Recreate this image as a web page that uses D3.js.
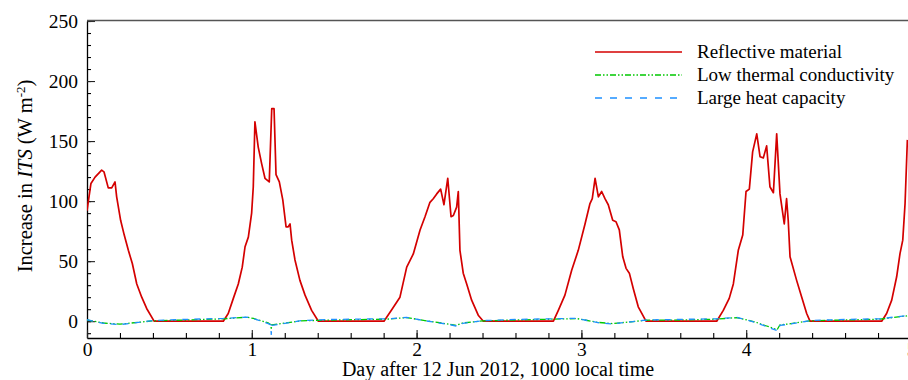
<!DOCTYPE html>
<html>
<head>
<meta charset="utf-8">
<script src="https://cdn.jsdelivr.net/npm/d3@7"></script>
<style>
    body { margin: 0; background: #fff; }
    svg { display: block; font-family: "Liberation Serif", "Times New Roman", serif; }
</style>
</head>
<body>
<div id="container"></div>
<script>
// [day, increase in ITS (W m-2)]
const reflective = [
    [0.000, 92], [0.024, 114.7], [0.049, 120], [0.089, 125.8], [0.103, 124.4],
    [0.129, 111], [0.150, 111], [0.170, 116], [0.180, 103.6], [0.204, 84],
    [0.226, 71.7], [0.251, 59], [0.275, 48], [0.302, 31], [0.332, 20],
    [0.362, 10.6], [0.407, 0], [0.827, 0], [0.857, 6.4], [0.888, 19],
    [0.918, 31], [0.942, 45], [0.959, 62], [0.979, 70], [0.999, 90],
    [1.009, 112], [1.019, 166], [1.039, 145], [1.060, 131], [1.080, 119],
    [1.106, 116], [1.121, 177], [1.135, 177], [1.147, 122], [1.167, 116],
    [1.188, 101], [1.208, 78.6], [1.221, 78.6], [1.232, 81], [1.242, 67.5],
    [1.262, 51], [1.292, 34], [1.323, 21.7], [1.363, 9], [1.404, 0],
    [1.802, 0], [1.851, 10], [1.899, 20], [1.940, 45], [1.980, 56],
    [2.021, 76], [2.051, 87], [2.081, 99], [2.101, 102], [2.122, 106],
    [2.146, 110], [2.166, 97], [2.189, 119], [2.209, 87], [2.223, 88],
    [2.243, 95], [2.253, 108], [2.263, 59], [2.283, 40], [2.304, 31],
    [2.334, 17.5], [2.374, 5], [2.405, 0], [2.830, 0], [2.860, 9],
    [2.900, 21.7], [2.941, 42.5], [2.981, 59], [3.022, 81], [3.052, 98],
    [3.066, 102], [3.083, 119], [3.103, 103.6], [3.123, 108], [3.143, 102],
    [3.163, 97], [3.190, 84], [3.210, 82.8], [3.230, 76], [3.251, 53.6],
    [3.271, 44], [3.291, 40], [3.315, 27], [3.345, 12], [3.392, 0],
    [3.821, 0], [3.861, 9], [3.897, 19], [3.922, 31], [3.952, 59],
    [3.979, 71.7], [3.999, 108], [4.019, 110], [4.039, 141], [4.064, 156],
    [4.084, 137], [4.104, 136], [4.124, 146], [4.144, 112], [4.165, 107],
    [4.185, 156], [4.205, 106], [4.231, 81], [4.245, 102], [4.255, 84],
    [4.266, 53.6], [4.306, 34], [4.337, 20], [4.367, 6.4], [4.387, 0],
    [4.822, 0], [4.852, 6.4], [4.883, 17.5], [4.913, 37], [4.933, 56],
    [4.950, 67.5], [4.964, 98], [4.978, 151]
];

const lowConductivity = [
    [0.000, 1], [0.100, -1.5], [0.200, -2.5], [0.400, 0.3], [0.600, 1],
    [0.828, 2.0], [0.970, 3.3], [1.010, 2.3], [1.100, -1.5], [1.116, -3],
    [1.118, -7], [1.121, -3], [1.160, -2.3], [1.300, 0.3], [1.500, 1],
    [1.822, 1.7], [1.940, 3], [2.050, 0.5], [2.200, -2.5], [2.240, -3.5],
    [2.280, -1.5], [2.406, 0.3], [2.600, 1], [2.830, 1.7], [2.971, 2.2],
    [3.100, -1], [3.190, -2], [3.300, -0.5], [3.396, 0.8], [3.600, 1],
    [3.821, 1.7], [3.943, 3], [4.050, -0.5], [4.124, -4], [4.188, -7],
    [4.205, -3], [4.245, -2.5], [4.387, 0.3], [4.600, 1], [4.812, 1.7],
    [4.980, 4.5]
];

const heatCapacity = [
    [0.000, 1.2], [0.100, -1.8], [0.200, -2.8], [0.400, 0.5], [0.600, 1.5],
    [0.828, 2.3], [0.970, 3.4], [1.010, 2.2], [1.100, -2], [1.115, -3],
    [1.118, -11], [1.122, -3.5], [1.160, -2.8], [1.300, 0.5], [1.500, 1.5],
    [1.822, 2.0], [1.940, 3.1], [2.050, 0.4], [2.200, -2.8], [2.240, -4],
    [2.280, -1.8], [2.406, 0.5], [2.600, 1.5], [2.830, 2.0], [2.971, 2.4],
    [3.100, -1.2], [3.190, -2.3], [3.300, -0.5], [3.396, 1], [3.600, 1.5],
    [3.821, 2.0], [3.943, 3.2], [4.050, -0.8], [4.124, -4.5], [4.190, -8],
    [4.205, -3.5], [4.245, -2.8], [4.387, 0.5], [4.600, 1.5], [4.812, 2.0],
    [4.980, 4.8]
];

const seriesNames = ["Reflective material", "Low thermal conductivity", "Large heat capacity"];
const seriesColors = ["#d40000", "#00c800", "#1e90ff"];
const seriesDashes = [null, "6,2,1.5,2,1.5,2", "6,6"];
const yMajorTicks = [0, 50, 100, 150, 200, 250];
const xMajorTicks = [0, 1, 2, 3, 4, 5];

const width = 908, height = 380;
const plotLeft = 87, plotRight = 911, plotTop = 21, plotBottom = 338;

const svg = d3.select("div#container")
    .append("svg")
    .attr("width", width)
    .attr("height", height);

const x = d3.scaleLinear().domain([0, 5]).range([plotLeft, plotRight]);
const y = d3.scaleLinear().domain([-14, 250]).range([plotBottom, plotTop]);

svg.append("clipPath").attr("id", "plot")
    .append("rect")
    .attr("x", plotLeft).attr("y", plotTop - 1)
    .attr("width", plotRight - plotLeft).attr("height", plotBottom - plotTop + 1);

// minor ticks first, majors drawn over them
svg.append("g")
    .attr("transform", `translate(${plotLeft},0)`)
    .call(d3.axisLeft(y).tickValues(d3.range(-10, 251, 10)).tickSize(-4).tickFormat(""))
    .call(g => g.select(".domain").remove());

svg.append("g")
    .attr("transform", `translate(0,${plotBottom})`)
    .call(d3.axisBottom(x).tickValues(d3.range(0, 5.01, 0.2)).tickSize(-5).tickFormat(""))
    .call(g => g.select(".domain").remove());

const yAxis = svg.append("g")
    .attr("transform", `translate(${plotLeft},0)`)
    .call(d3.axisLeft(y).tickValues(yMajorTicks).tickSize(-8).tickPadding(9).tickSizeOuter(0));

const xAxis = svg.append("g")
    .attr("transform", `translate(0,${plotBottom})`)
    .call(d3.axisBottom(x).tickValues(xMajorTicks).tickFormat(d3.format("d"))
        .tickSize(-8).tickPadding(4).tickSizeOuter(0));

[yAxis, xAxis].forEach(g => {
    g.selectAll("text").attr("font-size", 19.5).attr("fill", "#000")
        .attr("font-family", "Liberation Serif");
    g.selectAll(".tick line").attr("stroke", "#222");
    g.select(".domain").attr("stroke", "#000").attr("stroke-width", 1.3);
});
svg.selectAll(".tick line").attr("stroke-width", 1.1);

// top frame
svg.append("line")
    .attr("x1", plotLeft).attr("x2", plotRight)
    .attr("y1", plotTop - 0.5).attr("y2", plotTop - 0.5)
    .attr("stroke", "#555").attr("stroke-width", 1.3);

const lineGenerator = d3.line()
    .x(d => x(d[0]))
    .y(d => y(d[1]));

const plot = svg.append("g").attr("clip-path", "url(#plot)");

[reflective, lowConductivity, heatCapacity].forEach((data, i) => {
    plot.append("path")
        .datum(data)
        .attr("d", lineGenerator)
        .attr("fill", "none")
        .attr("stroke", seriesColors[i])
        .attr("stroke-width", i === 0 ? 1.7 : 1.3)
        .attr("stroke-dasharray", seriesDashes[i])
        .attr("stroke-linejoin", "round");
});

// legend
const legend = svg.append("g").attr("transform", "translate(595,52)");
seriesNames.forEach((name, i) => {
    const row = legend.append("g").attr("transform", `translate(0,${i * 23})`);
    row.append("line")
        .attr("x1", 0).attr("x2", 87)
        .attr("stroke", seriesColors[i])
        .attr("stroke-width", i === 0 ? 1.7 : 1.3)
        .attr("stroke-dasharray", seriesDashes[i] === "6,6" ? "7,8" : seriesDashes[i]);
    row.append("text")
        .attr("x", 102).attr("y", 6)
        .attr("font-size", 19)
        .text(name);
});

// axis titles
svg.append("text")
    .attr("x", 498).attr("y", 376)
    .attr("text-anchor", "middle")
    .attr("font-size", 20)
    .text("Day after 12 Jun 2012, 1000 local time");

const yTitle = svg.append("text")
    .attr("transform", "translate(32,176) rotate(-90)")
    .attr("text-anchor", "middle")
    .attr("font-size", 20.5);
yTitle.append("tspan").text("Increase in ");
yTitle.append("tspan").attr("font-style", "italic").text("ITS");
yTitle.append("tspan").text(" (W m");
yTitle.append("tspan").attr("dy", -7).attr("font-size", 13).text("-2");
yTitle.append("tspan").attr("dy", 7).text(")");
</script>
</body>
</html>
